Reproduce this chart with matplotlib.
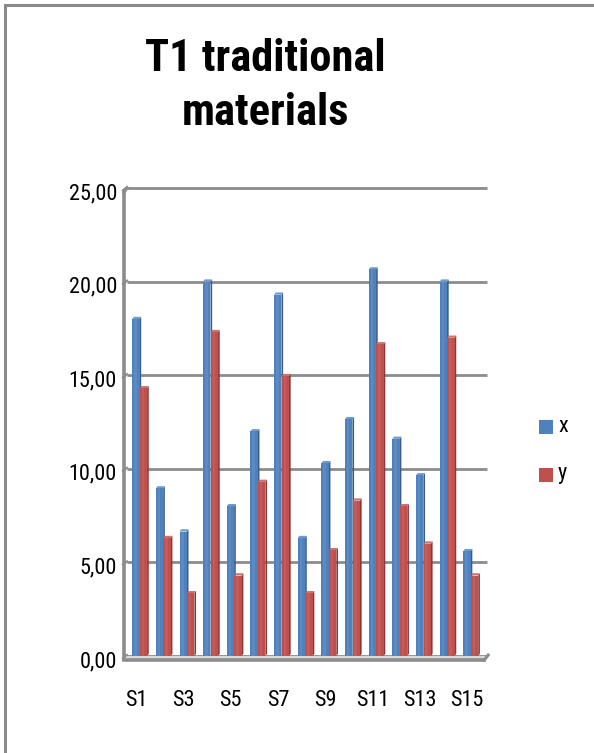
import matplotlib
matplotlib.use("Agg")
import matplotlib.pyplot as plt
from matplotlib.patches import Polygon
from matplotlib.lines import Line2D

# ---- data ----
categories = ["S%d" % i for i in range(1, 16)]
series_names = ["x", "y"]
x_values = [18.0, 8.95, 6.65, 20.0, 8.0, 12.0, 19.3, 6.3, 10.3, 12.65, 20.65, 11.6, 9.65, 20.0, 5.6]
y_values = [14.3, 6.3, 3.35, 17.3, 4.3, 9.3, 14.95, 3.35, 5.65, 8.3, 16.65, 8.0, 6.0, 17.0, 4.3]
y_ticks = [0, 5, 10, 15, 20, 25]
title = "T1 traditional\nmaterials"

plt.rcParams["font.family"] = ["Roboto Condensed", "Liberation Sans", "DejaVu Sans"]

W, H = 594, 753
fig = plt.figure(figsize=(W / 100, H / 100), dpi=100)
fig.patch.set_facecolor("white")

# outer chart frame (left and top edges)
fig.add_artist(Line2D([5 / W, 5 / W], [0, 1 - 5 / H], color="#8a8a8a", lw=2.2, transform=fig.transFigure))
fig.add_artist(Line2D([5 / W, 1], [1 - 5 / H, 1 - 5 / H], color="#8a8a8a", lw=2.2, transform=fig.transFigure))

fig.text(265 / W, 1 - 86 / H, title, ha="center", va="center", fontsize=32,
         fontweight="bold", linespacing=1.36, color="black")

left_px, right_px, top_px, zero_px = 127, 487, 188, 656
ax = fig.add_axes([left_px / W, 1 - zero_px / H, (right_px - left_px) / W, (zero_px - top_px) / H])
ax.set_xlim(0.45, 15.67)
ax.set_ylim(0, 25)
ax.set_facecolor("none")
for s in ax.spines.values():
    s.set_visible(False)
ax.set_xticks([])
ax.set_yticks([])

lab_fs = 16
grid_col = "#8c8c8c"
for t in y_ticks:
    ax.plot([0.45, 15.67], [t, t], color=grid_col, lw=2.0, solid_capstyle="butt", zorder=1, clip_on=False)
    ax.plot([0.28, 0.45], [t - 0.12, t + 0.05], color=grid_col, lw=1.6, zorder=1, clip_on=False)
    ax.text(0.45 - 10 / 23.65, t - 0.3, ("%.2f" % t).replace(".", ","), ha="right", va="center",
            fontsize=lab_fs, color="black", clip_on=False)

# left wall edge
ax.plot([0.32, 0.32], [-0.15, 24.75], color=grid_col, lw=2.6, zorder=1, clip_on=False)
ax.plot([0.32, 0.45], [24.75, 25.0], color=grid_col, lw=2.2, zorder=1, clip_on=False)

# floor
floor = Polygon([[0.32, -0.2], [15.55, -0.2], [15.67, 0.0], [0.45, 0.0]], closed=True,
                facecolor="#d9d9d9", edgecolor="none", zorder=1, clip_on=False)
ax.add_patch(floor)
ax.plot([0.32, 15.55], [-0.22, -0.22], color=grid_col, lw=2.6, zorder=1, clip_on=False)
ax.plot([15.55, 15.72], [-0.22, 0.05], color=grid_col, lw=2.2, zorder=1, clip_on=False)

# 3D-look bars
face = {"x": "#4f81bd", "y": "#c0504d"}
side = {"x": "#385d8a", "y": "#8c3836"}
top = {"x": "#6f9ad0", "y": "#d0706d"}
bw, dx, dy = 0.31, 0.07, 0.12


def draw_bar(x0, v, key, z):
    x1 = x0 + bw
    ax.add_patch(Polygon([[x1, 0], [x1 + dx, dy], [x1 + dx, v + dy], [x1, v]], closed=True,
                         facecolor=side[key], edgecolor="none", zorder=z))
    ax.add_patch(Polygon([[x0, v], [x1, v], [x1 + dx, v + dy], [x0 + dx, v + dy]], closed=True,
                         facecolor=top[key], edgecolor="none", zorder=z))
    ax.bar(x0, v, width=bw, align="edge", color=face[key], edgecolor="none", zorder=z)
    ax.bar(x0 + bw * 0.25, v, width=bw * 0.35, align="edge", color="white", alpha=0.08,
           edgecolor="none", zorder=z)


for i, (xv, yv) in enumerate(zip(x_values, y_values)):
    c = i + 1
    draw_bar(c - bw - 0.02, xv, "x", 3)
    draw_bar(c - 0.01, yv, "y", 4)

# category labels (every other one)
for i, cat in enumerate(categories):
    if i % 2 == 0:
        ax.text(i + 1 - 0.17, -2.4, cat, ha="center", va="center", fontsize=lab_fs, color="black",
                clip_on=False)

# legend
for name, yc in zip(series_names, [427, 475]):
    fig.patches.append(plt.Rectangle((539 / W, 1 - (yc + 7) / H), 14 / W, 14 / H,
                                     facecolor=face[name], edgecolor="none",
                                     transform=fig.transFigure, figure=fig))
    fig.text(558 / W, 1 - (yc - 1) / H, name, ha="left", va="center", fontsize=lab_fs, color="black")

fig.savefig("out.png", dpi=100, facecolor="white")
